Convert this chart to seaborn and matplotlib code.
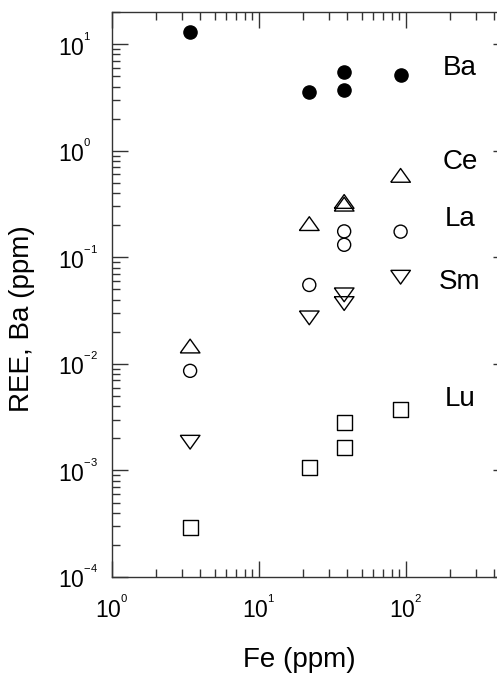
import math
import matplotlib
matplotlib.use("Agg")
import matplotlib.pyplot as plt
import matplotlib.ticker as mticker
import seaborn as sns
import pandas as pd

# Fe concentration (ppm) for each sample
fe = [3.4, 22, 38, 38, 92]

# Element concentrations (ppm)
ba = [12.9, 3.57, 3.68, 5.43, 5.12]
ce = [0.0147, 0.207, 0.334, 0.315, 0.587]
la = [0.0086, 0.055, 0.175, 0.131, 0.174]
sm = [0.00184, 0.027, 0.0444, 0.0368, 0.065]
lu = [0.00029, 0.00107, 0.00284, 0.00165, 0.00373]

# Element labels and their anchor positions (Fe, value)
labels = ["Ba", "Ce", "La", "Sm", "Lu"]
label_y = [5.1, 0.674, 0.198, 0.0506, 0.00402]
label_x = 233

sns.set_theme(style="ticks")
plt.rcParams["font.family"] = ["Liberation Sans", "DejaVu Sans"]
plt.rcParams["mathtext.fontset"] = "custom"
plt.rcParams["mathtext.rm"] = "Liberation Sans"
plt.rcParams["mathtext.it"] = "Liberation Sans:italic"
plt.rcParams["mathtext.bf"] = "Liberation Sans:bold"
for key in ["text.color", "axes.labelcolor", "xtick.labelcolor", "ytick.labelcolor"]:
    plt.rcParams[key] = "black"

fig = plt.figure(figsize=(4.97, 6.76), dpi=100)
ax = fig.add_axes([0.2254, 0.1464, 0.798, 0.8358])

tri_up = [(-1, -0.7), (1, -0.7), (0, 0.7), (-1, -0.7)]
tri_dn = [(-1, 0.7), (1, 0.7), (0, -0.7), (-1, 0.7)]

series = [
    (ba, "o", 90, True),
    (ce, tri_up, 200, False),
    (la, "o", 88, False),
    (sm, tri_dn, 200, False),
    (lu, "s", 115, False),
]

for vals, mk, size, filled in series:
    df = pd.DataFrame({"Fe": fe, "val": vals})
    sns.scatterplot(
        data=df, x="Fe", y="val", ax=ax, marker=mk, s=size,
        facecolor="black" if filled else "none",
        edgecolor="black", linewidth=1.0, zorder=3, legend=False,
    )

ax.set_xscale("log")
ax.set_yscale("log")
ax.set_xlim(1, 500)
ax.set_ylim(1e-4, 20)

for name, yv in zip(labels, label_y):
    ax.text(label_x, yv, name, ha="center", va="baseline", fontsize=20)

ax.set_xlabel("Fe (ppm)", fontsize=20)
ax.set_ylabel("REE, Ba (ppm)", fontsize=20)
ax.xaxis.set_label_coords(0.471, -0.124)
ax.yaxis.set_label_coords(-0.194, 0.458)

for sp in ax.spines.values():
    sp.set_visible(True)
    sp.set_linewidth(1.0)
    sp.set_color("#333333")


def pow10(v, pos):
    e = int(round(math.log10(v)))
    return r"$\mathdefault{10^{{}^{%d}}}$" % e


ax.xaxis.set_major_formatter(mticker.FuncFormatter(pow10))
ax.yaxis.set_major_formatter(mticker.FuncFormatter(pow10))

ax.tick_params(which="both", direction="in", top=True, right=True,
               color="#333333", width=1.0)
ax.tick_params(which="major", length=11.5, labelsize=16.5)
ax.tick_params(axis="x", which="major", pad=13)
ax.tick_params(axis="y", which="major", pad=39)
ax.tick_params(which="minor", length=5.5)
ax.yaxis.set_minor_locator(mticker.LogLocator(base=10, subs=range(2, 10), numticks=20))
ax.xaxis.set_minor_locator(mticker.LogLocator(base=10, subs=range(2, 10), numticks=20))
ax.yaxis.set_minor_formatter(mticker.NullFormatter())
ax.xaxis.set_minor_formatter(mticker.NullFormatter())

for t in ax.get_yticklabels():
    t.set_horizontalalignment("left")

fig.savefig("out.png", dpi=100)
